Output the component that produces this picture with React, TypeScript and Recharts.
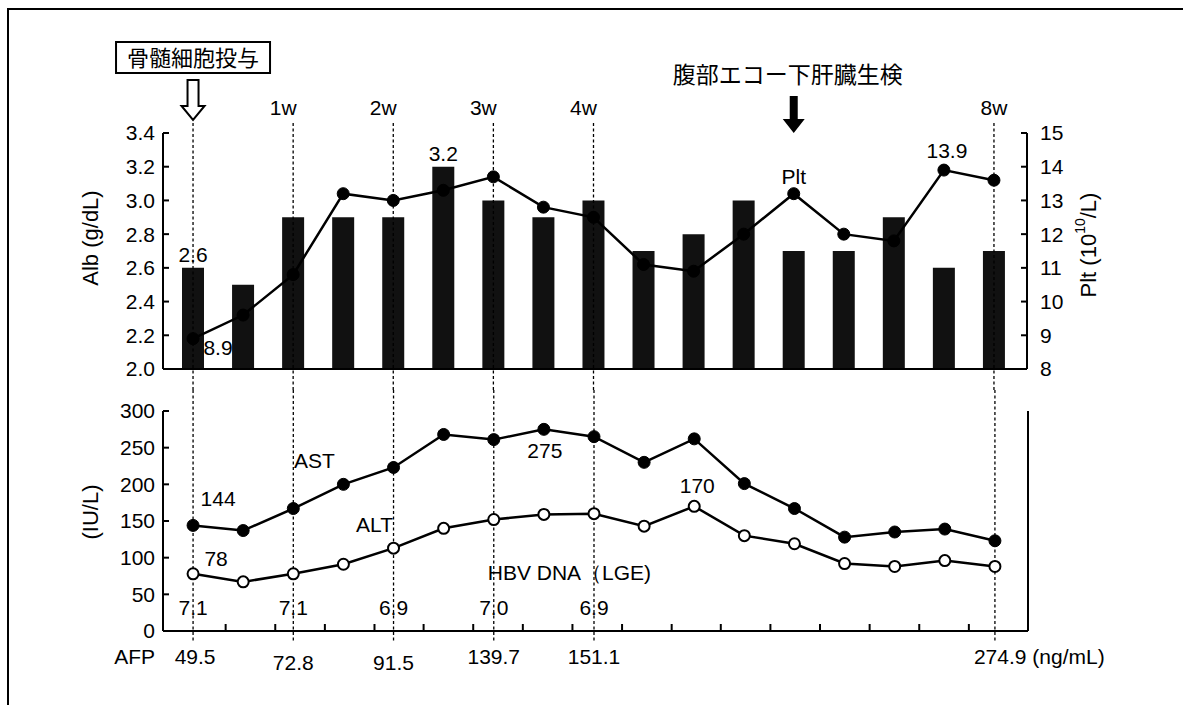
import React from 'react';
import { ComposedChart, LineChart, Bar, Line, XAxis, YAxis, ReferenceLine, LabelList } from 'recharts';

// ---------- data ----------
const visits = [1, 2, 3, 4, 5, 6, 7, 8, 9, 10, 11, 12, 13, 14, 15, 16, 17];
const albValues = [2.6, 2.5, 2.9, 2.9, 2.9, 3.2, 3.0, 2.9, 3.0, 2.7, 2.8, 3.0, 2.7, 2.7, 2.9, 2.6, 2.7];
const pltValues = [8.9, 9.6, 10.8, 13.2, 13.0, 13.3, 13.7, 12.8, 12.5, 11.1, 10.9, 12.0, 13.2, 12.0, 11.8, 13.9, 13.6];
const astValues = [144, 137, 167, 200, 223, 268, 261, 275, 265, 230, 262, 201, 167, 128, 135, 139, 123];
const altValues = [78, 67, 78, 91, 113, 140, 152, 159, 160, 143, 170, 130, 119, 92, 88, 96, 88];

const albTicks = [2.0, 2.2, 2.4, 2.6, 2.8, 3.0, 3.2, 3.4];
const pltTicks = [8, 9, 10, 11, 12, 13, 14, 15];
const iuTicks = [0, 50, 100, 150, 200, 250, 300];
const boundaryTicks = [1.65, 2.64, 3.63, 4.62, 5.6, 6.59, 7.58, 8.57, 9.56, 10.55, 11.53, 12.52, 13.51, 14.5, 15.49, 16.48];

const markerVisits = [1, 3, 5, 7, 9, 17];
const weekLabels = ['', '1w', '2w', '3w', '4w', '8w'];
const afpLabels = ['49.5', '72.8', '91.5', '139.7', '151.1', '274.9'];
const hbvLabels = ['7.1', '7.1', '6.9', '7.0', '6.9', ''];

const adminVisit = 1;
const adminText = '骨髄細胞投与';
const biopsyVisit = 13;
const biopsyText = '腹部エコー下肝臓生検';

const albNotes: Record<number, string> = { 0: '2.6', 5: '3.2' };
const pltNotes: Record<number, string> = { 0: '8.9', 12: 'Plt', 15: '13.9' };
const astNotes: Record<number, string> = { 0: '144', 2: 'AST', 7: '275' };
const altNotes: Record<number, string> = { 0: '78', 4: 'ALT', 10: '170' };

const data = visits.map((v, i) => ({
  visit: v,
  alb: albValues[i],
  plt: pltValues[i],
  ast: astValues[i],
  alt: altValues[i],
}));

// ---------- styling ----------
const FONT = "'Liberation Sans', Arial, Helvetica, sans-serif";
const CJK = "'Noto Sans CJK JP', 'Noto Sans CJK SC', sans-serif";
const FS = 21;
const tickStyle = { fontSize: FS, fill: '#000', fontFamily: FONT };
const axisLineStyle = { stroke: '#000', strokeWidth: 2 };
const X_DOMAIN: [number, number] = [0.4, 17.66];

const getPt = (props: any) => {
  const vb = props.viewBox || {};
  return {
    x: vb.x ?? props.x,
    y: vb.y ?? props.y,
    w: vb.width ?? props.width ?? 0,
  };
};

const noteOffsets: Record<string, [number, number]> = {
  '8.9': [25, 16],
  Plt: [0, -10],
  '13.9': [3, -12],
  '144': [25, -19],
  AST: [21, -41],
  '275': [1, 29],
  '78': [23, -8],
  ALT: [-19, -16],
  '170': [3, -13],
};

const pointNote = (notes: Record<number, string>) => (props: any) => {
  const idx = props.index;
  const t = notes[idx];
  if (!t) return null;
  const { x, y } = getPt(props);
  const [dx, dy] = noteOffsets[t] || [0, 0];
  return (
    <text x={x + dx} y={y + dy} textAnchor="middle" fontSize={FS} fontFamily={FONT} fill="#000">
      {t}
    </text>
  );
};

const barNote = (props: any) => {
  const t = albNotes[props.index];
  if (!t) return null;
  const { x, y, w } = getPt(props);
  return (
    <text x={x + w / 2} y={y - 6} textAnchor="middle" fontSize={FS} fontFamily={FONT} fill="#000">
      {t}
    </text>
  );
};

const emptyTick = () => <g />;

const topMarker = (k: number) => (p: any) => {
  const x = p.x1;
  const top = Math.min(p.y1, p.y2);
  const bot = Math.max(p.y1, p.y2);
  const label = weekLabels[k];
  const isLast = k === markerVisits.length - 1;
  const isAdmin = markerVisits[k] === adminVisit;
  return (
    <g>
      <line x1={x} y1={top - 10} x2={x} y2={bot + 21} stroke="#000" strokeWidth={1.3} strokeDasharray="3 2.5" />
      {label ? (
        <text x={x + (isLast ? 0 : -10)} y={top - 18} textAnchor="middle" fontSize={FS} fontFamily={FONT} fill="#000">
          {label}
        </text>
      ) : null}
      {isAdmin ? (
        <g>
          <rect x={x - 77} y={top - 91} width={154} height={31} fill="#fff" stroke="#000" strokeWidth={2} />
          <text x={x} y={top - 67} textAnchor="middle" fontSize={22} fontFamily={CJK} fill="#000">
            {adminText}
          </text>
          <polygon
            points={`${x - 5.5},${top - 53} ${x + 5.5},${top - 53} ${x + 5.5},${top - 27} ${x + 11.5},${top - 27} ${x},${top - 13} ${x - 11.5},${top - 27} ${x - 5.5},${top - 27}`}
            fill="#fff"
            stroke="#000"
            strokeWidth={2}
          />
        </g>
      ) : null}
    </g>
  );
};

const biopsyMarker = (p: any) => {
  const x = p.x1;
  const top = Math.min(p.y1, p.y2);
  return (
    <g>
      <text x={x - 6} y={top - 50} textAnchor="middle" fontSize={23} fontFamily={CJK} fill="#000">
        {biopsyText}
      </text>
      <polygon
        points={`${x - 4},${top - 37} ${x + 4},${top - 37} ${x + 4},${top - 14} ${x + 11},${top - 14} ${x},${top} ${x - 11},${top - 14} ${x - 4},${top - 14}`}
        fill="#000"
      />
    </g>
  );
};

const bottomMarker = (k: number) => (p: any) => {
  const x = p.x1;
  const top = Math.min(p.y1, p.y2);
  const bot = Math.max(p.y1, p.y2);
  const isFirst = k === 0;
  const isLast = k === markerVisits.length - 1;
  const lowered = k === 1 || k === 2;
  return (
    <g>
      <line x1={x} y1={top - 21} x2={x} y2={bot + 12} stroke="#000" strokeWidth={1.3} strokeDasharray="3 2.5" />
      {hbvLabels[k] ? (
        <text x={x} y={bot - 16} textAnchor="middle" fontSize={FS} fontFamily={FONT} fill="#000">
          {hbvLabels[k]}
        </text>
      ) : null}
      {isLast ? (
        <text x={x - 21} y={bot + 33} textAnchor="start" fontSize={FS} fontFamily={FONT} fill="#000">
          {afpLabels[k]} (ng/mL)
        </text>
      ) : (
        <text x={x + (isFirst ? 2 : 0)} y={bot + (lowered ? 39 : 33)} textAnchor="middle" fontSize={FS} fontFamily={FONT} fill="#000">
          {afpLabels[k]}
        </text>
      )}
      {isFirst ? (
        <text x={x - 38} y={bot + 33} textAnchor="end" fontSize={FS} fontFamily={FONT} fill="#000">
          AFP
        </text>
      ) : null}
      {markerVisits[k] === 7 ? (
        <text x={x - 6} y={bot - 51} textAnchor="start" fontSize={FS} fontFamily={FONT} fill="#000">
          HBV DNA（LGE)
        </text>
      ) : null}
    </g>
  );
};

const leftTitle = (text: string, dy: number) => (props: any) => {
  const vb = props.viewBox;
  const cx = vb.x - 13;
  const cy = vb.y + vb.height / 2 + dy;
  return (
    <text x={cx} y={cy} transform={`rotate(-90 ${cx} ${cy})`} textAnchor="middle" dominantBaseline="central" fontSize={22} fontFamily={FONT} fill="#000">
      {text}
    </text>
  );
};

const pltTitle = (props: any) => {
  const vb = props.viewBox;
  const cx = vb.x + 61;
  const cy = vb.y + vb.height / 2 - 6;
  return (
    <text x={cx} y={cy} transform={`rotate(-90 ${cx} ${cy})`} textAnchor="middle" dominantBaseline="central" fontSize={22} fontFamily={FONT} fill="#000">
      <tspan>Plt (10</tspan>
      <tspan dy={-8} fontSize={14}>10</tspan>
      <tspan dy={8}>/L)</tspan>
    </text>
  );
};

export default function App() {
  return (
    <div style={{ position: 'absolute', left: 0, top: 0, width: 1183, height: 705, overflow: 'hidden', background: '#fff' }}>
      <div style={{ position: 'absolute', left: 7, top: 8, width: 1200, height: 720, border: '2px solid #000' }} />
      <div style={{ position: 'absolute', left: 0, top: 0 }}>
        <ComposedChart width={1183} height={705} data={data} margin={{ top: 133, right: 96, bottom: 335, left: 103 }}>
          <XAxis dataKey="visit" type="number" domain={X_DOMAIN} allowDataOverflow height={1} tick={emptyTick} tickLine={false} axisLine={axisLineStyle} ticks={[1]} />
          <YAxis
            yAxisId="alb"
            domain={[2.0, 3.4]}
            ticks={albTicks}
            interval={0}
            tickFormatter={(v: number) => v.toFixed(1)}
            tickSize={-6}
            tickMargin={14}
            tick={tickStyle}
            tickLine={axisLineStyle}
            axisLine={axisLineStyle}
            width={60}
            allowDataOverflow
            label={{ content: leftTitle('Alb (g/dL)', -13) } as any}
          />
          <YAxis
            yAxisId="plt"
            orientation="right"
            domain={[8, 15]}
            ticks={pltTicks}
            interval={0}
            tickSize={-6}
            tickMargin={19}
            tick={tickStyle}
            tickLine={axisLineStyle}
            axisLine={axisLineStyle}
            width={60}
            allowDataOverflow
            label={{ content: pltTitle } as any}
          />
          <Bar yAxisId="alb" dataKey="alb" barSize={22} fill="#111" isAnimationActive={false}>
            <LabelList dataKey="alb" content={barNote} />
          </Bar>
          <Line
            yAxisId="plt"
            dataKey="plt"
            stroke="#000"
            strokeWidth={2.5}
            dot={{ r: 6, fill: '#000', stroke: '#000', strokeWidth: 1 }}
            isAnimationActive={false}
          >
            <LabelList dataKey="plt" content={pointNote(pltNotes)} />
          </Line>
          {markerVisits.map((v, k) => (
            <ReferenceLine key={`t${v}`} yAxisId="alb" x={v} shape={topMarker(k)} />
          ))}
          <ReferenceLine yAxisId="alb" x={biopsyVisit} shape={biopsyMarker} />
        </ComposedChart>
      </div>
      <div style={{ position: 'absolute', left: 0, top: 0 }}>
        <LineChart width={1183} height={705} data={data} margin={{ top: 411, right: 95, bottom: 73, left: 103 }}>
          <XAxis
            dataKey="visit"
            type="number"
            domain={X_DOMAIN}
            allowDataOverflow
            ticks={boundaryTicks}
            interval={0}
            height={1}
            tick={emptyTick}
            tickSize={-7}
            tickLine={axisLineStyle}
            axisLine={axisLineStyle}
          />
          <YAxis
            yAxisId="iu"
            domain={[0, 300]}
            ticks={iuTicks}
            interval={0}
            tickSize={-6}
            tickMargin={14}
            tick={tickStyle}
            tickLine={axisLineStyle}
            axisLine={axisLineStyle}
            width={60}
            label={{ content: leftTitle('(IU/L)', -9) } as any}
          />
          <YAxis yAxisId="r" orientation="right" domain={[0, 300]} tick={false} tickLine={false} axisLine={axisLineStyle} width={60} />
          <Line
            yAxisId="iu"
            dataKey="ast"
            stroke="#000"
            strokeWidth={2.5}
            dot={{ r: 6, fill: '#000', stroke: '#000', strokeWidth: 1 }}
            isAnimationActive={false}
          >
            <LabelList dataKey="ast" content={pointNote(astNotes)} />
          </Line>
          <Line
            yAxisId="iu"
            dataKey="alt"
            stroke="#000"
            strokeWidth={2.5}
            dot={{ r: 5.5, fill: '#fff', stroke: '#000', strokeWidth: 2 }}
            isAnimationActive={false}
          >
            <LabelList dataKey="alt" content={pointNote(altNotes)} />
          </Line>
          {markerVisits.map((v, k) => (
            <ReferenceLine key={`b${v}`} yAxisId="iu" x={v} shape={bottomMarker(k)} />
          ))}
        </LineChart>
      </div>
    </div>
  );
}
